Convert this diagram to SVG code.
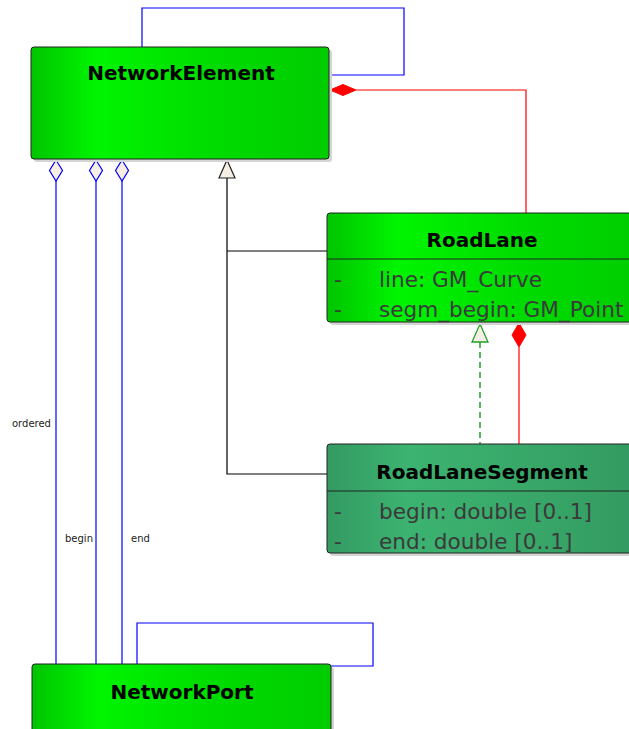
<svg xmlns="http://www.w3.org/2000/svg" width="629" height="729" viewBox="0 0 629 729">
<defs>
<linearGradient id="gGreen" x1="0" y1="0" x2="1" y2="0">
<stop offset="0" stop-color="#00c400"/>
<stop offset="0.22" stop-color="#00f500"/>
<stop offset="0.6" stop-color="#00dc00"/>
<stop offset="1" stop-color="#00cc00"/>
</linearGradient>
<linearGradient id="gSea" x1="0" y1="0" x2="1" y2="0">
<stop offset="0" stop-color="#339a62"/>
<stop offset="0.25" stop-color="#3cb371"/>
<stop offset="0.7" stop-color="#37a567"/>
<stop offset="1" stop-color="#339960"/>
</linearGradient>
</defs>
<style>
.shadow{fill:#d4d4d4}
.box{stroke:#222;stroke-width:1}
.title{font-family:"DejaVu Sans",sans-serif;font-weight:bold;font-size:20px;fill:#000;text-anchor:middle}
.attr{font-family:"DejaVu Sans",sans-serif;font-size:21.6px;fill:#3a3a3a}
.lbl{font-family:"DejaVu Sans",sans-serif;font-size:10px;fill:#222}
.blue{fill:none;stroke:#0000ff;stroke-width:1.2}
.red{fill:none;stroke:#ff0000;stroke-width:1.2}
.black{fill:none;stroke:#000;stroke-width:1.2}
.green{fill:none;stroke:#22a022;stroke-width:1.5;stroke-dasharray:6,4}
.odia{fill:#f8efe3;stroke:#0000ff;stroke-width:1.2}
.fdia{fill:#ff0000;stroke:#ff0000;stroke-width:1}
.gtri{fill:#f5efe6;stroke:#222;stroke-width:1.2}
.rtri{fill:#f5efe6;stroke:#22a022;stroke-width:1.3}
</style>
<g id="connectors">
<polyline class="blue" points="142,47 142,8 404,8 404,75 329,75"/>
<polyline class="red" points="356,90 526,90 526,213"/>
<polygon class="fdia" points="330,90 343,84.5 356,90 343,95.5"/>
<line class="blue" x1="56" y1="181" x2="56" y2="664"/>
<line class="blue" x1="96" y1="181" x2="96" y2="664"/>
<line class="blue" x1="122" y1="181" x2="122" y2="664"/>
<polygon class="odia" points="56,160 62.5,170.5 56,181 49.5,170.5"/>
<polygon class="odia" points="96,160 102.5,170.5 96,181 89.5,170.5"/>
<polygon class="odia" points="122,160 128.5,170.5 122,181 115.5,170.5"/>
<polyline class="black" points="227,178 227,474 327,474"/>
<line class="black" x1="227" y1="251" x2="327" y2="251"/>
<polygon class="gtri" points="227,160 235,178 219,178"/>
<line class="green" x1="480" y1="342" x2="480" y2="444"/>
<polygon class="rtri" points="480,324 488,342 472,342"/>
<line class="red" x1="519" y1="347" x2="519" y2="444"/>
<polygon class="fdia" points="519,323 526,335 519,347 512,335"/>
<polyline class="blue" points="137,664 137,623 373,623 373,666 331,666"/>
<text class="lbl" x="12" y="427">ordered</text>
<text class="lbl" x="65" y="542">begin</text>
<text class="lbl" x="131" y="542">end</text>
</g>
<g id="NetworkElement">
<rect class="shadow" x="34" y="50" width="298" height="112" rx="3"/>
<rect class="box" x="31" y="47" width="298" height="112" rx="3" fill="url(#gGreen)"/>
<text class="title" x="181" y="80">NetworkElement</text>
</g>
<g id="RoadLane">
<rect class="shadow" x="330" y="216" width="320" height="109" rx="3"/>
<rect class="box" x="327" y="213" width="320" height="109" rx="3" fill="url(#gGreen)"/>
<line x1="327" y1="259" x2="647" y2="259" stroke="#222" stroke-width="1"/>
<text class="title" x="482" y="247">RoadLane</text>
<text class="attr" x="334" y="287">-</text>
<text class="attr" x="379" y="287">line: GM_Curve</text>
<text class="attr" x="334" y="317">-</text>
<text class="attr" x="379" y="317">segm_begin: GM_Point</text>
</g>
<g id="RoadLaneSegment">
<rect class="shadow" x="330" y="447" width="320" height="109" rx="3"/>
<rect class="box" x="327" y="444" width="320" height="109" rx="3" fill="url(#gSea)"/>
<line x1="327" y1="491" x2="647" y2="491" stroke="#222" stroke-width="1"/>
<text class="title" x="482" y="479">RoadLaneSegment</text>
<text class="attr" x="334" y="519">-</text>
<text class="attr" x="379" y="519">begin: double [0..1]</text>
<text class="attr" x="334" y="549">-</text>
<text class="attr" x="379" y="549">end: double [0..1]</text>
</g>
<g id="NetworkPort">
<rect class="shadow" x="35" y="667" width="299" height="80" rx="3"/>
<rect class="box" x="32" y="664" width="299" height="80" rx="3" fill="url(#gGreen)"/>
<text class="title" x="182" y="699">NetworkPort</text>
</g>
</svg>
